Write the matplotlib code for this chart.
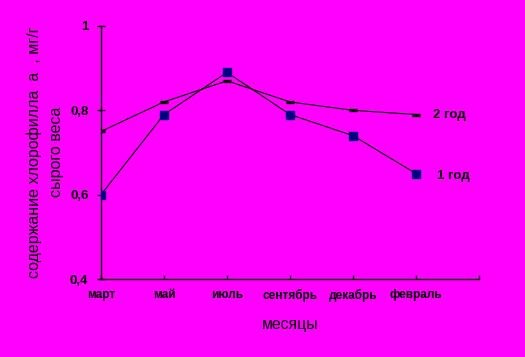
import matplotlib
matplotlib.use("Agg")
import matplotlib.pyplot as plt
from matplotlib.ticker import FixedLocator, FuncFormatter

months = ["март", "май", "июль", "сентябрь", "декабрь", "февраль"]
year1 = [0.60, 0.79, 0.89, 0.79, 0.74, 0.65]
year2 = [0.75, 0.82, 0.87, 0.82, 0.80, 0.79]
yticks = [0.4, 0.6, 0.8, 1.0]
ytick_labels = ["0,4", "0,6", "0,8", "1"]

plt.rcParams['font.family'] = ['Liberation Sans', 'DejaVu Sans']

bg = "#FF00FF"
fig = plt.figure(figsize=(5.25, 3.57), dpi=100, facecolor=bg)
ax = fig.add_axes([101/525, 1-279/357, (479-101)/525, (279-26)/357])
ax.set_facecolor(bg)

x = list(range(len(months)))
ax.plot(x, year2, color="black", lw=0.8, marker="_", ms=6, mew=2.4,
        mec="black", zorder=3)
ax.plot(x, year1, color="black", lw=0.8, marker="s", ms=6.2, mfc="#000080",
        mec="#000080", zorder=4)

ax.annotate("2 год", (x[-1], year2[-1]), xytext=(12, 0), textcoords="offset points",
            ha="left", va="center", fontsize=9.5, fontweight="bold")
ax.annotate("1 год", (x[-1], year1[-1]), xytext=(15, -2), textcoords="offset points",
            ha="left", va="center", fontsize=9.5, fontweight="bold")

ax.set_xlim(0, 6)
ax.set_ylim(0.4, 1.0)
for s in ["top", "right"]:
    ax.spines[s].set_visible(False)
for s in ["left", "bottom"]:
    ax.spines[s].set_linewidth(1.0)
    ax.spines[s].set_color("black")

ax.xaxis.remove_overlapping_locs = False
ax.xaxis.set_major_locator(FixedLocator([0, 1, 2, 3, 4, 5, 6]))
ax.set_xticklabels([])
ax.tick_params(axis="x", direction="in", length=3, width=1, color="black")
ax.xaxis.set_minor_locator(FixedLocator(x))
ax.xaxis.set_minor_formatter(FuncFormatter(lambda v, p: months[int(round(v))]))
ax.tick_params(axis="x", which="minor", length=0, pad=7, labelsize=8.5)
for t in ax.xaxis.get_minorticklabels():
    t.set_fontweight("bold")

ax.set_yticks(yticks)
ax.set_yticklabels(ytick_labels, fontsize=9.5, fontweight="bold")
ax.tick_params(axis="y", direction="inout", length=6, width=1, color="black", pad=6)

fig.text(34/525, 1-152/357, "содержание хлорофилла  а  , мг/г", rotation=90,
         ha="center", va="center", fontsize=11.5)
fig.text(56/525, 1-152/357, "сырого веса", rotation=90,
         ha="center", va="center", fontsize=11.5)
fig.text(290/525, 1-325/357, "месяцы", ha="center", va="center", fontsize=11.3)

fig.savefig("out.png", dpi=100, facecolor=bg)
